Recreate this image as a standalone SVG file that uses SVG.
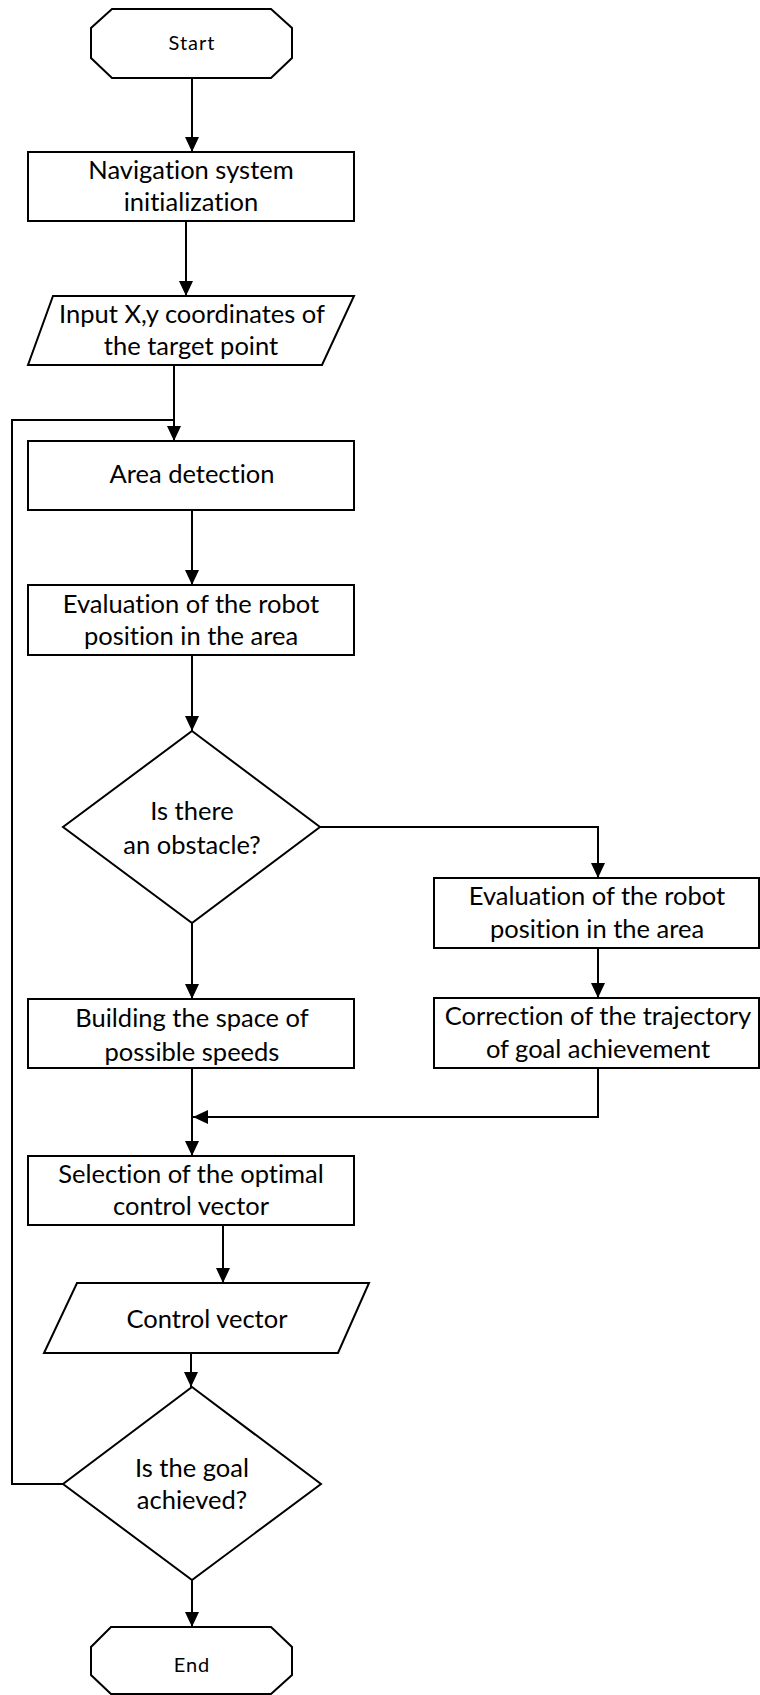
<svg xmlns="http://www.w3.org/2000/svg" width="760" height="1695" viewBox="0 0 760 1695">
<defs>
<style>
.s{fill:#fff;stroke:#000;stroke-width:2}
.c{fill:none;stroke:#000;stroke-width:2}
.t{font-family:Lato,"Open Sans",sans-serif;font-size:25.5px;fill:#000;text-anchor:middle;font-variant-ligatures:none}
.ts{font-family:Lato,"Open Sans",sans-serif;font-size:20px;fill:#000;text-anchor:middle;letter-spacing:1px;font-variant-ligatures:none}
</style>
<marker id="ah" markerUnits="userSpaceOnUse" markerWidth="15" markerHeight="14" refX="15" refY="7" orient="auto">
<path d="M0,0 L15,7 L0,14 z" fill="#000"/>
</marker>
</defs>
<rect width="760" height="1695" fill="#fff"/>
<g id="connectors">
<path class="c" d="M192,78 V152" marker-end="url(#ah)"/>
<path class="c" d="M186,221 V296" marker-end="url(#ah)"/>
<path class="c" d="M174,365 V441" marker-end="url(#ah)"/>
<path class="c" d="M63,1484 H12 V420 H174"/>
<path class="c" d="M192,510 V585" marker-end="url(#ah)"/>
<path class="c" d="M192,655 V731" marker-end="url(#ah)"/>
<path class="c" d="M320,827 H598 V878" marker-end="url(#ah)"/>
<path class="c" d="M192,923 V999" marker-end="url(#ah)"/>
<path class="c" d="M598,948 V998" marker-end="url(#ah)"/>
<path class="c" d="M598,1068 V1117 H193" marker-end="url(#ah)"/>
<path class="c" d="M192,1068 V1156" marker-end="url(#ah)"/>
<path class="c" d="M223,1225 V1283" marker-end="url(#ah)"/>
<path class="c" d="M191,1353 V1387" marker-end="url(#ah)"/>
<path class="c" d="M192,1580 V1627" marker-end="url(#ah)"/>
</g>
<g id="start">
<polygon class="s" points="112,9 271,9 292,28 292,58 271,78 112,78 91,58 91,28"/>
<text class="ts" x="192" y="50">Start</text>
</g>
<g id="init">
<rect class="s" x="28" y="152" width="326" height="69"/>
<text class="t" x="191" y="179">Navigation system</text>
<text class="t" x="191" y="211">initialization</text>
</g>
<g id="input">
<polygon class="s" points="53,296 354,296 322,365 28,365"/>
<text class="t" x="192" y="323">Input X,y coordinates of</text>
<text class="t" x="191" y="355">the target point</text>
</g>
<g id="area">
<rect class="s" x="28" y="441" width="326" height="69"/>
<text class="t" x="192" y="483">Area detection</text>
</g>
<g id="eval1">
<rect class="s" x="28" y="585" width="326" height="70"/>
<text class="t" x="191" y="613">Evaluation of the robot</text>
<text class="t" x="191" y="645">position in the area</text>
</g>
<g id="obstacle">
<polygon class="s" points="192,731 320,827 192,923 63,827"/>
<text class="t" x="192" y="820">Is there</text>
<text class="t" x="192" y="854">an obstacle?</text>
</g>
<g id="eval2">
<rect class="s" x="434" y="878" width="325" height="70"/>
<text class="t" x="597" y="905">Evaluation of the robot</text>
<text class="t" x="597" y="938">position in the area</text>
</g>
<g id="correction">
<rect class="s" x="434" y="998" width="325" height="70"/>
<text class="t" x="598" y="1025">Correction of the trajectory</text>
<text class="t" x="598" y="1058">of goal achievement</text>
</g>
<g id="building">
<rect class="s" x="28" y="999" width="326" height="69"/>
<text class="t" x="192" y="1027">Building the space of</text>
<text class="t" x="192" y="1061">possible speeds</text>
</g>
<g id="selection">
<rect class="s" x="28" y="1156" width="326" height="69"/>
<text class="t" x="191" y="1183">Selection of the optimal</text>
<text class="t" x="191" y="1215">control vector</text>
</g>
<g id="controlvector">
<polygon class="s" points="77,1283 369,1283 338,1353 44,1353"/>
<text class="t" x="207" y="1328">Control vector</text>
</g>
<g id="goal">
<polygon class="s" points="192,1387 321,1484 192,1580 63,1484"/>
<text class="t" x="192" y="1477">Is the goal</text>
<text class="t" x="192" y="1509">achieved?</text>
</g>
<g id="end">
<polygon class="s" points="111,1627 271,1627 292,1647 292,1675 271,1694 111,1694 91,1675 91,1647"/>
<text class="ts" x="192" y="1672">End</text>
</g>
</svg>
